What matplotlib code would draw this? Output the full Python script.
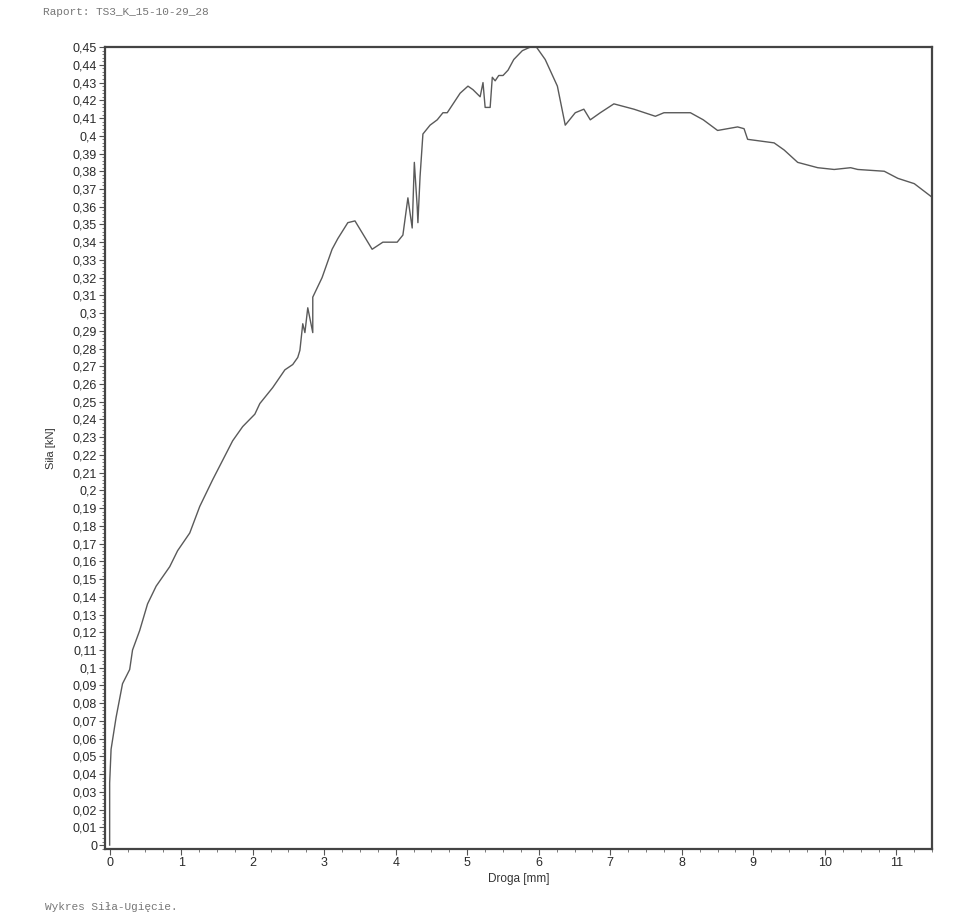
import numpy as np
import matplotlib
matplotlib.use('Agg')
import matplotlib.pyplot as plt
from matplotlib.ticker import MultipleLocator, FuncFormatter

# odczyt z wykresu: droga [mm], sila [kN]
droga = [0.0, 0.0, 0.02, 0.09, 0.18, 0.28, 0.32, 0.42, 0.53, 0.65, 0.84, 0.95,
         1.12, 1.26, 1.44, 1.58, 1.72, 1.86, 2.03, 2.1, 2.28, 2.45, 2.56, 2.63,
         2.66, 2.7, 2.73, 2.77, 2.84, 2.84, 2.97, 3.11, 3.19, 3.33, 3.43, 3.67,
         3.82, 4.02, 4.1, 4.17, 4.23, 4.26, 4.3, 4.31, 4.34, 4.38, 4.48, 4.58,
         4.66, 4.72, 4.9, 5.01, 5.08, 5.18, 5.22, 5.25, 5.32, 5.35, 5.39, 5.44,
         5.5, 5.57, 5.65, 5.77, 5.88, 5.95, 6.09, 6.26, 6.37, 6.51, 6.63, 6.72,
         6.86, 7.05, 7.33, 7.63, 7.75, 8.12, 8.3, 8.5, 8.78, 8.87, 8.92, 9.29,
         9.43, 9.62, 9.9, 10.13, 10.36, 10.46, 10.83, 11.02, 11.25, 11.51]
sila = [0.0, 0.035, 0.054, 0.072, 0.091, 0.099, 0.11, 0.121, 0.136, 0.146, 0.157, 0.166,
        0.176, 0.191, 0.206, 0.217, 0.228, 0.236, 0.243, 0.249, 0.258, 0.268, 0.271, 0.275,
        0.279, 0.294, 0.289, 0.303, 0.289, 0.309, 0.320, 0.336, 0.342, 0.351, 0.352, 0.336,
        0.340, 0.340, 0.344, 0.365, 0.348, 0.385, 0.360, 0.351, 0.377, 0.401, 0.406, 0.409,
        0.413, 0.413, 0.424, 0.428, 0.426, 0.422, 0.430, 0.416, 0.416, 0.433, 0.431, 0.434,
        0.434, 0.437, 0.443, 0.448, 0.450, 0.451, 0.443, 0.428, 0.406, 0.413, 0.415, 0.409,
        0.413, 0.418, 0.415, 0.411, 0.413, 0.413, 0.409, 0.403, 0.405, 0.404, 0.398, 0.396,
        0.392, 0.385, 0.382, 0.381, 0.382, 0.381, 0.380, 0.376, 0.373, 0.365]

fig = plt.figure(figsize=(9.6, 9.17), dpi=100)
ax = fig.add_axes([0.109, 0.074, 0.862, 0.875])

ax.plot(droga, sila, color='#5a5a5a', linewidth=1.0)

ax.set_xlim(-0.07, 11.5)
ax.set_ylim(-0.0023, 0.4502)

ax.xaxis.set_major_locator(MultipleLocator(1))
ax.xaxis.set_minor_locator(MultipleLocator(0.25))
ax.yaxis.set_major_locator(MultipleLocator(0.01))
ax.yaxis.set_minor_locator(MultipleLocator(0.002))

fmt = FuncFormatter(lambda v, p: ('%g' % round(v, 2)).replace('.', ','))
ax.yaxis.set_major_formatter(fmt)
ax.xaxis.set_major_formatter(FuncFormatter(lambda v, p: '%d' % round(v)))

for lab in ax.get_xticklabels() + ax.get_yticklabels():
    lab.set_fontfamily('Liberation Sans')
ax.tick_params(axis='both', which='major', labelsize=9, length=4, color='#555555',
               labelcolor='#2a2a2a', pad=1.5)
ax.tick_params(axis='both', which='minor', length=2, color='#666666')

for s in ax.spines.values():
    s.set_color('#444444')
    s.set_linewidth(1.6)

ax.set_xlabel('Droga [mm]', fontsize=8.5, family='Liberation Sans', color='#333333', labelpad=3)
ax.set_ylabel('Siła [kN]', fontsize=8, family='Liberation Sans', color='#333333')
ax.yaxis.set_label_coords(-0.059, 0.5)

fig.text(0.045, 0.987, 'Raport: TS3_K_15-10-29_28', fontsize=8, family='Liberation Mono',
         color='#777777', va='center')
fig.text(0.047, 0.011, 'Wykres Siła-Ugięcie.', fontsize=8, family='Liberation Mono',
         color='#777777', va='center')

fig.savefig('out.png', dpi=100)
